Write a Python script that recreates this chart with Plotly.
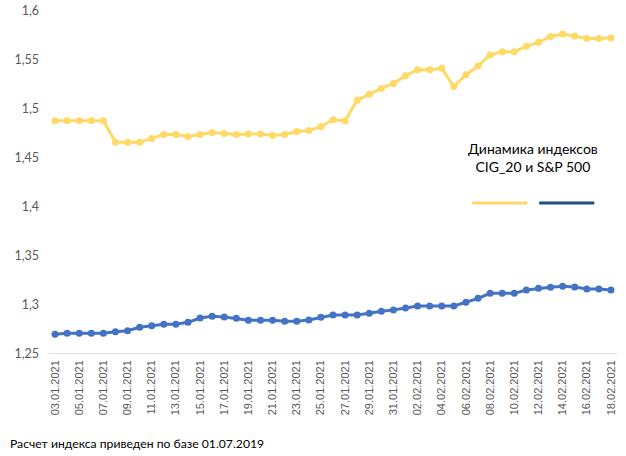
import plotly.graph_objects as go
import pandas as pd

dates = [d.strftime("%d.%m.%Y") for d in pd.date_range("2021-01-03", "2021-02-18", freq="D")]

cig20 = [1.488, 1.488, 1.488, 1.488, 1.488, 1.466, 1.466, 1.466, 1.470, 1.474,
         1.474, 1.472, 1.474, 1.476, 1.475, 1.474, 1.4745, 1.4745, 1.473, 1.474,
         1.477, 1.478, 1.482, 1.489, 1.488, 1.509, 1.515, 1.521, 1.526, 1.534,
         1.540, 1.540, 1.5415, 1.523, 1.535, 1.544, 1.555, 1.5585, 1.5585, 1.564,
         1.568, 1.574, 1.5765, 1.5745, 1.572, 1.572, 1.5725]

sp500 = [1.2701, 1.2711, 1.2711, 1.2711, 1.2711, 1.2728, 1.2738, 1.2772, 1.2789, 1.2803,
         1.2803, 1.2823, 1.2867, 1.2885, 1.2878, 1.2864, 1.2844, 1.2844, 1.2844, 1.2834,
         1.2834, 1.2847, 1.2876, 1.2898, 1.2898, 1.2898, 1.2915, 1.2936, 1.2949, 1.2969,
         1.2990, 1.2990, 1.2990, 1.2990, 1.3028, 1.3068, 1.3119, 1.3119, 1.3119, 1.3153,
         1.3170, 1.3180, 1.3191, 1.3184, 1.3163, 1.3163, 1.3153]

y_ticks = [1.25, 1.3, 1.35, 1.4, 1.45, 1.5, 1.55, 1.6]
y_labels = ["1,25", "1,3", "1,35", "1,4", "1,45", "1,5", "1,55", "1,6"]

YELLOW = "#FFD966"
BLUE = "#4472C4"
NAVY = "#1F4E79"

fig = go.Figure()
fig.add_trace(go.Scatter(x=dates, y=cig20, mode="lines+markers", name="CIG_20",
                         line=dict(color=YELLOW, width=3), marker=dict(color=YELLOW, size=7),
                         cliponaxis=False))
fig.add_trace(go.Scatter(x=dates, y=sp500, mode="lines+markers", name="S&P 500",
                         line=dict(color=BLUE, width=3), marker=dict(color=BLUE, size=7),
                         cliponaxis=False))

fig.update_layout(
    width=626, height=456,
    margin=dict(l=49, r=9, t=11, b=102),
    paper_bgcolor="white", plot_bgcolor="white",
    showlegend=False,
    font=dict(family="Lato, Liberation Sans, sans-serif", color="#595959"),
    xaxis=dict(type="category", range=[-0.5, len(dates) - 0.5], automargin=False,
               tickvals=dates[::2], ticktext=dates[::2], tickangle=-90,
               tickfont=dict(family="Liberation Sans, Arial", size=11, color="#595959"),
               showgrid=False, showline=False, zeroline=False, ticks="", ticklabelstandoff=3),
    yaxis=dict(range=[1.25, 1.6], tickvals=y_ticks, ticktext=y_labels, automargin=False,
               tickfont=dict(family="Lato, sans-serif", size=12.5, color="#595959"),
               showgrid=False, zeroline=False, showline=False, ticks="", ticklabelstandoff=9),
)

# bottom axis line
fig.add_shape(type="line", xref="paper", yref="y", x0=0, x1=1, y0=1.25, y1=1.25,
              line=dict(color="#D9D9D9", width=1.5), layer="below")

# legend title and swatches
fig.add_annotation(xref="paper", yref="paper", x=0.852, y=0.574, xanchor="center", yanchor="middle",
                   text="Динамика индексов<br>CIG_20 и S&amp;P 500", showarrow=False,
                   font=dict(family="Lato, sans-serif", size=14, color="#000000"), align="center")
fig.add_shape(type="line", xref="paper", yref="paper", x0=0.745, x1=0.842, y0=0.44, y1=0.44,
              line=dict(color=YELLOW, width=3))
fig.add_shape(type="line", xref="paper", yref="paper", x0=0.863, x1=0.960, y0=0.44, y1=0.44,
              line=dict(color=NAVY, width=3))

fig.add_annotation(xref="paper", yref="paper", x=-0.072, y=-0.262, xanchor="left", yanchor="middle",
                   text="Расчет индекса приведен по базе 01.07.2019", showarrow=False,
                   font=dict(family="Lato, sans-serif", size=12.2, color="#000000"))

fig.write_html("out.html", config={"displayModeBar": False},
               post_script="document.body.style.margin='0';document.body.style.overflow='hidden';")
